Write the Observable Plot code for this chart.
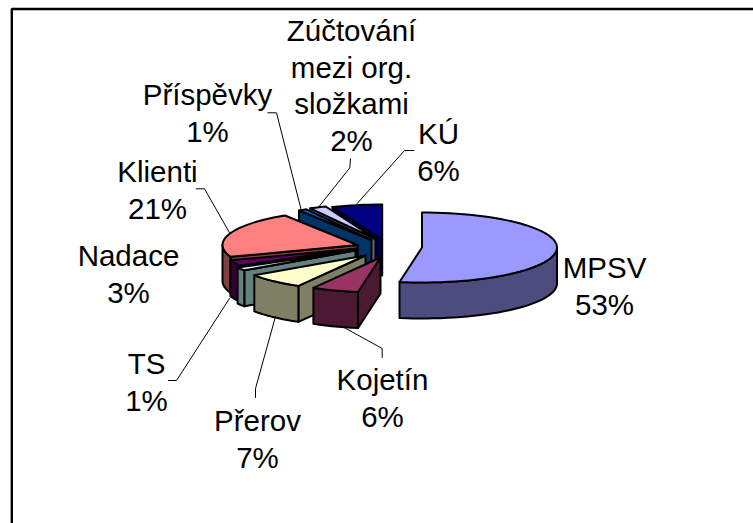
<!DOCTYPE html>
<html><head><meta charset="utf-8">
<script src="https://cdn.jsdelivr.net/npm/d3@7"></script>
<script src="https://cdn.jsdelivr.net/npm/@observablehq/plot@0.6"></script>
<style>html,body{margin:0;padding:0;background:#fff}svg{display:block}</style>
</head><body><div id="chart"></div>
<script>
const categories = ["MPSV","Kojetín","Přerov","TS","Nadace","Klienti","Příspěvky","Zúčtování\nmezi org.\nsložkami","KÚ"];
const shares = [52.5,5.6,7.1,1.49,2.6,21.4,1,2,6];
const topColors = ["#9999FF","#993366","#FFFFCC","#CCFFFF","#660066","#FF8080","#0066CC","#CCCCFF","#000080"];
const sideColors = ["#4C4C7F","#4C1933","#7F7F66","#667F7F","#330033","#7F4040","#003366","#66667F","#000040"];
const apexX = [421.5,380,365,355,357,357,371,375,381.7];
const apexY = [247,257,255,250,248,244.5,239.5,238.5,239];
const labelX = [604,382,257,146,128,157,207,351,438];
const labelY = [266,378,419,362,254,170,93,29,132];
const leaders = [
  [[340,325],[381.7,348],[381.7,357]],
  [[275,316],[255,388],[255,397]],
  [[229,298],[176,380],[168,380]],
  [[229.3,232.7],[204,188.3],[195.7,188.3]],
  [[300.7,209.3],[276,112.3],[267.3,112.3]],
  [[318,206.7],[349.3,167.3],[350,158.3]],
  [[356.7,203],[404,150],[413.3,150]]
];
const drawOrder = [0,8,7,6,5,4,3,2,1];
const rx = 135, ry = 35, depth = 36;
const W = 753, H = 523;
const fontSize = 29.5, lineStep = 36.5;

const total = d3.sum(shares);
let cum = 0;
const angles = shares.map(v => { const a = cum/total*360; cum += v; return [a, cum/total*360]; });
const rim = (i, deg, dy = 0) => {
  const t = deg*Math.PI/180;
  return {x: apexX[i] + rx*Math.sin(t), y: apexY[i] - ry*Math.cos(t) + dy};
};
const arc = (i, a, b, dy = 0) => {
  const n = Math.max(2, Math.ceil(Math.abs(b-a)/3));
  return d3.range(n+1).map(k => rim(i, a+(b-a)*k/n, dy));
};
const poly = (pts, fill) => Plot.line([...pts, pts[0], pts[1]], {x:"x", y:"y", fill, stroke:"#000", strokeWidth:2, strokeLinejoin:"round", curve:"linear"});

const marks = [];
marks.push(Plot.line([{x:11.3,y:H+5},{x:11.3,y:8.5},{x:W+5,y:8.5}], {x:"x",y:"y",stroke:"#000",strokeWidth:2.4,strokeLinejoin:"miter"}));
for (const i of drawOrder) {
  const [a,b] = angles[i];
  const apex = {x:apexX[i], y:apexY[i]}, apexB = {x:apexX[i], y:apexY[i]+depth};
  if (a>180 && a<360) {
    marks.push(poly([apex, rim(i,a), rim(i,a,depth), apexB], sideColors[i]));
  }
  if (b>0 && b<180) {
    marks.push(poly([apex, rim(i,b), rim(i,b,depth), apexB], sideColors[i]));
  }
  const w0 = Math.max(a,90), w1 = Math.min(b,270);
  if (w1>w0) {
    marks.push(poly([...arc(i,w0,w1), ...arc(i,w1,w0,depth)], sideColors[i]));
  }
  marks.push(poly([apex, ...arc(i,a,b)], topColors[i]));
}
for (const l of leaders) {
  marks.push(Plot.line(l.map(([x,y])=>({x,y})), {x:"x",y:"y",stroke:"#000",strokeWidth:1}));
}
const labels = categories.map((c,i)=>{
  const text = `${c}\n${Math.round(shares[i])}%`;
  const n = text.split("\n").length;
  return {text, x:labelX[i], y:labelY[i] + (n-1)*lineStep/2};
});
marks.push(Plot.text(labels,{x:"x",y:"y",text:"text",lineAnchor:"middle",textAnchor:"middle",fontFamily:"Liberation Sans, Arial, sans-serif",fontSize,lineHeight:lineStep/fontSize,fill:"#000"}));

const chart = Plot.plot({
  width:W, height:H, margin:0, style:{background:"#fff"},
  x:{type:"linear",domain:[0,W],range:[0,W],axis:null},
  y:{type:"linear",domain:[0,H],range:[0,H],axis:null},
  marks
});
document.getElementById("chart").append(chart);
</script></body></html>
